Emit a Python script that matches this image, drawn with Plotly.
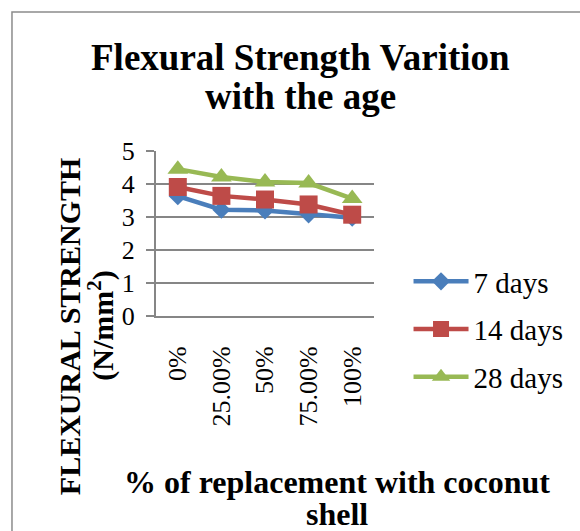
import plotly.graph_objects as go

categories = ["0%", "25.00%", "50%", "75.00%", "100%"]
days7 = [3.63, 3.22, 3.20, 3.08, 2.98]
days14 = [3.91, 3.64, 3.53, 3.38, 3.07]
days28 = [4.45, 4.21, 4.06, 4.03, 3.56]
series_names = ["7 days", "14 days", "28 days"]
y_ticks = [0, 1, 2, 3, 4, 5]

FONT = "Liberation Serif, Times New Roman, serif"
W, H = 580, 531
X0, X1, Y0, Y1 = 156, 377, 151, 316  # plot area in pixels


def px(x):
    return (x - X0) / (X1 - X0)


def py(y):
    return (Y1 - y) / (Y1 - Y0)


fig = go.Figure()
styles = [
    ("#4A7EBB", "diamond", 14),
    ("#BE4B48", "square", 18),
    ("#98B954", "triangle-up", 18),
]
for name, vals, (col, sym, sz) in zip(series_names, [days7, days14, days28], styles):
    fig.add_trace(go.Scatter(
        x=categories, y=vals, name=name, mode="lines+markers",
        line=dict(color=col, width=4.5),
        marker=dict(color=col, symbol=sym, size=sz),
        legendgroup=name,
    ))

fig.update_layout(
    width=W, height=H,
    margin=dict(l=X0, r=W - X1, t=Y0, b=H - Y1, pad=0),
    paper_bgcolor="white", plot_bgcolor="white",
    font=dict(family=FONT, color="black", size=26),
    showlegend=True,
    legend=dict(
        x=px(412), y=py(256), xanchor="left", yanchor="top",
        font=dict(family=FONT, size=29, color="black"),
        itemwidth=55, tracegroupgap=7, traceorder="grouped",
        bgcolor="rgba(0,0,0,0)",
    ),
    xaxis=dict(
        type="category", range=[-0.5, 4.5],
        tickangle=-90, tickfont=dict(family=FONT, size=26),
        showline=True, linecolor="#868686", linewidth=2,
        showgrid=False, ticks="", ticklabelstandoff=18,
        zeroline=False, fixedrange=True,
    ),
    yaxis=dict(
        range=[0, 5], tickvals=y_ticks,
        tickfont=dict(family=FONT, size=26),
        showgrid=True, gridcolor="#868686", gridwidth=2,
        showline=True, linecolor="#868686", linewidth=2,
        ticks="outside", ticklen=8, tickcolor="#868686", tickwidth=2,
        ticklabelstandoff=6, zeroline=False, fixedrange=True,
    ),
)

# chart border
fig.add_shape(type="rect", xref="paper", yref="paper",
              x0=px(10), x1=px(600), y0=py(12), y1=py(560),
              line=dict(color="#8c8c8c", width=1.5), layer="below")

# titles
title_font = dict(family=FONT, size=37, color="black")
xt_font = dict(family=FONT, size=32, color="black")
yt_font = dict(family=FONT, size=30, color="black")
for txt, y in [("<b>Flexural Strength Varition</b>", 57), ("<b>with the age</b>", 96)]:
    fig.add_annotation(text=txt, xref="paper", yref="paper", x=px(302), y=py(y),
                       xanchor="center", yanchor="middle", showarrow=False, font=title_font)
for txt, y in [("<b>% of replacement with coconut</b>", 482), ("<b>shell</b>", 514)]:
    fig.add_annotation(text=txt, xref="paper", yref="paper", x=px(339), y=py(y),
                       xanchor="center", yanchor="middle", showarrow=False, font=xt_font)
for txt, x in [("<b>FLEXURAL STRENGTH</b>", 68), ("<b>(N/mm<sup>2</sup>)</b>", 100)]:
    fig.add_annotation(text=txt, xref="paper", yref="paper", x=px(x), y=py(326),
                       xanchor="center", yanchor="middle", showarrow=False,
                       textangle=-90, font=yt_font)

fig.write_html("out.html", config={"displayModeBar": False},
               post_script="document.body.style.margin='0';document.body.style.overflow='hidden';")
